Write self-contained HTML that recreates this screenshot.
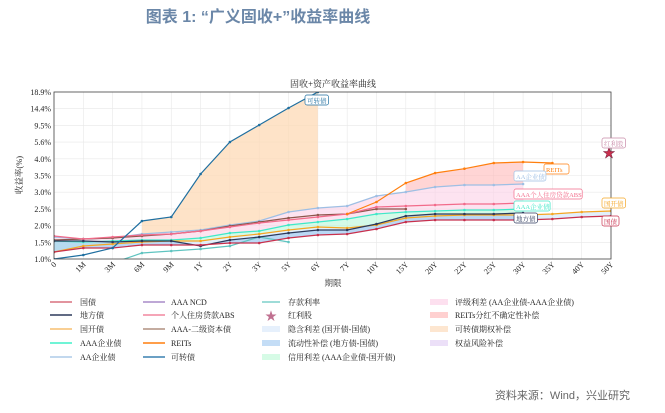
<!DOCTYPE html>
<html><head><meta charset="utf-8"><style>
body{margin:0;background:#fff;width:665px;height:408px;overflow:hidden;font-family:"Liberation Serif","Noto Serif CJK SC",serif}
</style></head><body>
<svg id="s" width="665" height="408" xmlns="http://www.w3.org/2000/svg" font-family="Liberation Serif, Noto Serif CJK SC, serif">
<text x="258" y="22" text-anchor="middle" font-family="Liberation Sans, Noto Sans CJK SC, sans-serif" font-size="16" font-weight="bold" fill="#6b87a8">图表 1:  “广义固收+”收益率曲线</text>
<text x="333" y="87" text-anchor="middle" font-size="9" fill="#222">固收+资产收益率曲线</text>
<text x="630" y="399" text-anchor="end" font-family="Liberation Sans, Noto Sans CJK SC, sans-serif" font-size="11" fill="#666">资料来源：Wind，兴业研究</text>
<text x="333" y="286" text-anchor="middle" font-size="8.5" fill="#222">期限</text>
<text transform="translate(22,175) rotate(-90)" text-anchor="middle" font-size="8.5" fill="#222">收益率(%)</text>
<g id="g"></g>
</svg>
<script>
const X=i=>54+i*29.316;
const g=document.getElementById('g');let h='';
const yt=['1.0%','1.5%','2.0%','2.5%','3.0%','3.5%','4.0%','5.6%','9.5%','14.4%','18.9%'];
for(let k=0;k<11;k++){const y=259-k*16.7;h+=`<line x1="54" x2="611" y1="${y}" y2="${y}" stroke="#e8e8e8" stroke-width="0.6"/><text x="51" y="${y+3}" text-anchor="end" font-size="8" fill="#222">${yt[k]}</text>`;}
const xt=['0','1M','3M','6M','9M','1Y','2Y','3Y','5Y','6Y','7Y','10Y','15Y','20Y','22Y','25Y','30Y','35Y','40Y','50Y'];
xt.forEach((t,i)=>{const x=X(i);h+=`<line x1="${x}" x2="${x}" y1="92" y2="259" stroke="#e8e8e8" stroke-width="0.6"/><text transform="translate(${x+3},${265}) rotate(-45)" text-anchor="end" font-size="8" fill="#222">${t}</text>`;});
function P(a,o){return a.map((y,i)=>y==null?null:[X(i+(o||0)),y]).filter(p=>p);}
function fill(a,b,c,op){const p=a.concat(b.slice().reverse());h+=`<polygon points="${p.map(q=>q.join(',')).join(' ')}" fill="${c}" fill-opacity="${op}"/>`;}
const cb=P([259,255,248,221,217,174,142,125,108,92]);
const aa=P([237,239,238,234,232,230,225,221,212,208,206,196,192,187,185,185,184]);
const br=P([240,239,238,236,234,231,226,222,218,215,214,209,209]);
const abs=P([236,239,237,235,234,231,227,223,220,217,214,207,206,205,204,204,203]);
const re=P([214,202,183,173,168.7,163,162,163],10);
const aaa=P([241,242,241,240,240,238,233,231,225,222,219,214,212,211,210,210,209]);
const gk=P([252,246,244,242,241,241,237,234,230,227,228,225,218,216,215,215,215,214,212,211]);
const df=P([241,241,242,241,241,246,240,237,233,230,230,224,216,214,214,214,213]);
const gz=P([252,248,248,245,245,245,243,243,238,235,234,229,222,220,220,220,220,219,217,216]);
const ck=[[X(2),263],[X(3),253],[X(4),251],[X(5),249],[X(6),246],[X(7),237],[X(8),242]];
h+=`<clipPath id="c"><rect x="54" y="92" width="557" height="167"/></clipPath><g clip-path="url(#c)">`;
fill(cb.slice(3),aa.slice(3,10),'#fdd9b5',0.75);
fill(re.slice(2,7),aa.slice(12,17),'#ffb3b3',0.55);
fill(aa,aaa.slice(0,17),'#fbd0e6',0.6);
fill(aaa,gk.slice(0,17),'#b8f7d8',0.6);
fill(gk,gz,'#d6e9fb',0.7);
fill(df,gz.slice(0,17),'#a9cdf2',0.7);
function L(p,c,w){h+=`<polyline points="${p.map(q=>q.join(',')).join(' ')}" fill="none" stroke="${c}" stroke-width="${w||1.2}"/>`;p.forEach(q=>h+=`<circle cx="${q[0]}" cy="${q[1]}" r="1.3" fill="${c}"/>`);}
L(ck,'#5fc4c0');L(aa,'#9ebfe4');L(br,'#8c564b');L(abs,'#f26b8a');L(aaa,'#40e8c8');L(gk,'#f5a623');L(df,'#2d3a5c');L(gz,'#c8304d');L(re,'#ff7f0e');L(cb,'#1f6fa0');
h+=`</g><rect x="54" y="92" width="557" height="167" fill="none" stroke="#444" stroke-width="0.8"/>`;
h+=`<text x="609" y="157" text-anchor="middle" font-size="12" fill="#c8304d" stroke="#7a2040" stroke-width="0.5">★</text>`;
function lab(x,y,t,c){let w=4;for(const ch of t)w+=ch.charCodeAt(0)>255?6.5:4.2;h+=`<rect x="${x}" y="${y-6}" width="${w}" height="10" rx="2" fill="#fff" stroke="${c}" stroke-width="0.7"/><text x="${x+2}" y="${y+2}" font-size="6.5" fill="${c}">${t}</text>`;}
lab(305,101,'可转债','#1f6fa0');lab(544,170,'REITs','#ff7f0e');lab(514,177,'AA企业债','#9ebfe4');lab(514,195,'AAA个人住房贷款ABS','#f26b8a');lab(514,207,'AAA企业债','#40e8c8');lab(514,219,'地方债','#2d3a5c');lab(602,204,'国开债','#f5a623');lab(602,222,'国债','#c8304d');lab(602,144,'红利股','#c88aa8');
const rows=[302,315,329,343,357];
const c1=[['国债','#d9707f'],['地方债','#2d3a5c'],['国开债','#f7bf70'],['AAA企业债','#40f0c8'],['AA企业债','#aecbe8']];
const c2=[['AAA NCD','#a98bc8'],['个人住房贷款ABS','#f2879f'],['AAA-二级资本债','#b09080'],['REITs','#ff7f0e'],['可转债','#3a80b0']];
const c3=[['存款利率','#7fd0cc'],null,['隐含利差 (国开债-国债)','#e6f0fc'],['流动性补偿 (地方债-国债)','#c4ddf6'],['信用利差 (AAA企业债-国开债)','#d6fbe6']];
const c4=[['评级利差 (AA企业债-AAA企业债)','#fde0ef'],['REITs分红不确定性补偿','#ffd0d0'],['可转债期权补偿','#fde6d0'],['权益风险补偿','#ece0f8']];
rows.forEach((y,i)=>{
h+=`<line x1="50" x2="72" y1="${y}" y2="${y}" stroke="${c1[i][1]}" stroke-width="1.5"/><text x="80" y="${y+3}" font-size="8" fill="#222">${c1[i][0]}</text>`;
h+=`<line x1="143" x2="165" y1="${y}" y2="${y}" stroke="${c2[i][1]}" stroke-width="1.5"/><text x="171" y="${y+3}" font-size="8" fill="#222">${c2[i][0]}</text>`;
if(i==0)h+=`<line x1="262" x2="280" y1="${y}" y2="${y}" stroke="${c3[0][1]}" stroke-width="1.5"/>`;
if(i==1)h+=`<text x="271" y="${y+5}" text-anchor="middle" font-size="12" fill="#c07090">★</text><text x="288" y="${y+3}" font-size="8" fill="#222">红利股</text>`;
else{if(i>0)h+=`<rect x="262" y="${y-3}" width="18" height="6" fill="${c3[i][1]}"/>`;h+=`<text x="288" y="${y+3}" font-size="8" fill="#222">${c3[i][0]}</text>`;}
if(i<4)h+=`<rect x="430" y="${y-3}" width="18" height="6" fill="${c4[i][1]}"/><text x="455" y="${y+3}" font-size="8" fill="#222">${c4[i][0]}</text>`;
});
g.innerHTML=h;
</script>
</body></html>
